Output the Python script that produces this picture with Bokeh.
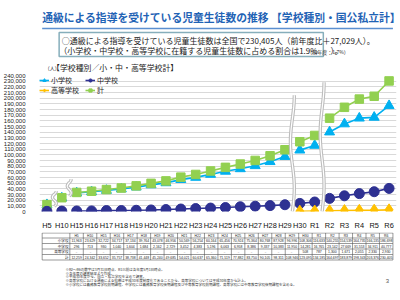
import numpy as np
from bokeh.plotting import figure
from bokeh.layouts import column
from bokeh.models import (Range1d, FactorRange, SingleIntervalTicker,
                          NumeralTickFormatter, Legend, LegendItem)
from bokeh.core.properties import value
from bokeh.embed import file_html
from bokeh.resources import INLINE

# ---- data -----------------------------------------------------------------
YEARS = ["H5", "H10", "H15", "H16", "H17", "H18", "H19", "H20", "H21", "H22",
         "H23", "H24", "H25", "H26", "H27", "H28", "H29", "H30", "R1",
         "R2", "R3", "R4", "R5", "R6"]
ELEMENTARY = [11963, 23629, 32722, 34717, 37134, 39764, 43078, 46956, 50569,
              56254, 60164, 65456, 70924, 75364, 80768, 87928, 96996, 108306,
              116633, 140255, 154539, 164735, 166135, 186698]
JUNIOR_HIGH = [296, 713, 930, 1040, 1604, 1684, 2162, 2729, 3452, 4383, 5196,
               6063, 6958, 8386, 9337, 10383, 11950, 14281, 16765, 23142,
               27669, 31553, 34911, 40777]
HIGH_SCHOOL = [None] * 17 + [508, 787, 1300, 1671, 2055, 2330, 2930]
TOTAL = [12259, 24342, 33652, 35757, 38738, 41448, 45240, 49685, 54021, 60637,
         65360, 71519, 77882, 83750, 90105, 98311, 108946, 123095, 134185,
         164697, 183879, 198343, 203376, 230405]

# a new line segment starts at each of these years (series break)
BREAK_YEARS = ["H10", "H15", "H30", "R2"]
# vertical extent of the wavy break marks (in persons)
BREAK_MARKS = {"H10": (9000, 36000), "H15": (27000, 57000),
               "H30": (0, 205000), "R2": (0, 228000)}

ROW_NAMES = ["小学校", "中学校", "高等学校", "計"]

TITLE = "通級による指導を受けている児童生徒数の推移 【学校種別・国公私立計】"
NOTE_1 = "○通級による指導を受けている児童生徒数は全国で230,405人（前年度比＋27,029人）。"
NOTE_2A = "（小学校・中学校・高等学校に在籍する児童生徒数に占める割合は1.9%"
NOTE_2B = "（前年度：1.7%）"
NOTE_2C = "）。"
UNIT = "（人）"
SUBTITLE = "【学校種別／小・中・高等学校計】"
FOOTNOTES = [
    "※R2～R6の数字は3月31日時点、R1以前は各年度5月1日時点。",
    "※各年度の調査結果より作成。",
    "※平成30年度から、国立・私立学校を含めて調査。",
    "※高等学校における通級による指導は平成30年度制度化であることから、高等学校については平成30年度から計上。",
    "※小学校には義務教育学校前期課程、中学校には義務教育学校後期課程及び中等教育学校前期課程、高等学校には中等教育学校後期課程を含める。",
]

JP = "Noto Sans CJK JP"
LAT = "Liberation Sans"

C_ELEM = "#00B0F0"
C_JHS = "#2E3192"
C_HIGH = "#FFC000"
C_TOTAL = "#92D050"


def bare(fig):
    fig.grid.visible = False
    fig.outline_line_color = None
    fig.background_fill_color = "white"
    fig.border_fill_color = "white"


# ---- header: title and summary box ----------------------------------------
head = figure(width=400, height=72, x_range=Range1d(0, 400),
              y_range=Range1d(72, 0), x_axis_type=None, y_axis_type=None,
              min_border=0, output_backend="svg", toolbar_location=None)
bare(head)
head.text(x=[3], y=[16], text=[TITLE], text_font=value(JP),
          text_font_size="10.8px", text_font_style="bold",
          text_color="#1F63B5", text_baseline="middle")
head.line(x=[3, 396], y=[28, 28], line_color="#5B8FD0", line_width=1.5)
head.quad(left=[22], right=[318], top=[32], bottom=[56], fill_color="white",
          line_color="#86AEBB", line_width=1.5)
head.text(x=[25], y=[39.5], text=[NOTE_1], text_font=value(JP),
          text_font_size="8px", text_color="#222222", text_baseline="middle")
head.text(x=[22], y=[50], text=[NOTE_2A], text_font=value(JP),
          text_font_size="8px", text_color="#222222", text_baseline="middle")
head.text(x=[300], y=[50.5], text=[NOTE_2B], text_font=value(JP),
          text_font_size="5px", text_color="#222222", text_baseline="middle")
head.text(x=[326], y=[50], text=[NOTE_2C], text_font=value(JP),
          text_font_size="8px", text_color="#222222", text_baseline="middle")
head.text(x=[6], y=[67], text=[UNIT], text_font=value(JP),
          text_font_size="5px", text_color="#222222", text_baseline="middle")
head.text(x=[14], y=[67], text=[SUBTITLE], text_font=value(JP),
          text_font_size="7.9px", text_color="#222222", text_baseline="middle")

# ---- chart ------------------------------------------------------------------
p = figure(width=400, height=160, x_range=FactorRange(*YEARS),
           y_range=Range1d(0, 240000), min_border_left=34, min_border_right=4,
           min_border_top=3, min_border_bottom=14, output_backend="svg",
           toolbar_location=None)
p.outline_line_color = None
p.xgrid.grid_line_color = None
p.ygrid.grid_line_color = "#D9D9D9"
p.ygrid.grid_line_width = 1

p.yaxis.ticker = SingleIntervalTicker(interval=10000)
p.yaxis.formatter = NumeralTickFormatter(format="0,0")
p.yaxis.major_label_text_font = LAT
p.yaxis.major_label_text_font_size = "6px"
p.yaxis.major_label_text_color = "#222222"
p.yaxis.major_label_standoff = 8
p.xaxis.major_label_text_font = LAT
p.xaxis.major_label_text_font_size = "7.4px"
p.xaxis.major_label_text_color = "#111111"
p.xaxis.major_label_standoff = 3
for ax in (p.xaxis, p.yaxis):
    ax.axis_line_color = None
    ax.major_tick_line_color = None
    ax.minor_tick_line_color = None


def runs(values):
    """Split a series into continuous runs at the break years."""
    xs_all, ys_all = [[]], [[]]
    for year, v in zip(YEARS, values):
        if year in BREAK_YEARS and xs_all[-1]:
            xs_all.append([])
            ys_all.append([])
        if v is not None:
            xs_all[-1].append(year)
            ys_all[-1].append(v)
    pairs = [(a, b) for a, b in zip(xs_all, ys_all) if len(a) > 1]
    return [a for a, _ in pairs], [b for _, b in pairs]


def series(values, color, marker, size):
    xs, ys = runs(values)
    ln = p.multi_line(xs=xs, ys=ys, line_color=color, line_width=1.6)
    px = [y for y, v in zip(YEARS, values) if v is not None]
    py = [v for v in values if v is not None]
    sc = p.scatter(x=px, y=py, marker=marker, size=size, fill_color=color,
                   line_color=color)
    return [ln, sc]


r_elem = series(ELEMENTARY, C_ELEM, "triangle", 10)
r_total = series(TOTAL, C_TOTAL, "square", 8.5)
r_jhs = series(JUNIOR_HIGH, C_JHS, "circle", 10)
r_high = series(HIGH_SCHOOL, C_HIGH, "diamond", 12)

# wavy break marks between discontinuous survey periods
wx, wy = [], []
for year, (y0, y1) in BREAK_MARKS.items():
    xb = YEARS.index(year)
    t = np.linspace(0.0, 1.0, 60)
    wx.append(list(xb + 0.13 * np.sin(2 * np.pi * 1.25 * t)))
    wy.append(list(y0 + (y1 - y0) * t))
p.multi_line(xs=wx, ys=wy, line_color="#BDBDBD", line_width=3.4)
p.multi_line(xs=wx, ys=wy, line_color="white", line_width=1.2)


# legend: two rows of two entries, stacked at the top left of the plot
def legend_row(items, bottom):
    lg = Legend(items=[LegendItem(label=lab, renderers=rs) for lab, rs in items],
                location=(0, bottom), orientation="horizontal")
    lg.label_text_font = JP
    lg.label_text_font_size = "7px"
    lg.label_text_color = "#222222"
    lg.glyph_width = 10
    lg.glyph_height = 8
    lg.label_height = 8
    lg.label_width = 32
    lg.label_standoff = 2
    lg.spacing = 2
    lg.padding = 1
    lg.margin = 0
    lg.border_line_color = None
    lg.background_fill_alpha = 0
    p.add_layout(lg)


legend_row([(ROW_NAMES[0], r_elem), (ROW_NAMES[1], r_jhs)], 126)
legend_row([(ROW_NAMES[2], r_high), (ROW_NAMES[3], r_total)], 116)

# ---- data table and footnotes --------------------------------------------
tab = figure(width=400, height=68, x_range=Range1d(0, 400),
             y_range=Range1d(300, 232), x_axis_type=None, y_axis_type=None,
             min_border=0, output_backend="svg", toolbar_location=None)
bare(tab)

T_LEFT, T_COL0, T_RIGHT = 3, 34, 396
ROW_EDGES = [232.5, 237.5, 243, 248.5, 254, 259.5]
col_w = (T_RIGHT - T_COL0) / len(YEARS)
col_edges = [T_COL0 + i * col_w for i in range(len(YEARS) + 1)]
col_mid = [T_COL0 + (i + 0.5) * col_w for i in range(len(YEARS))]

tab.segment(x0=[T_LEFT] * len(ROW_EDGES), x1=[T_RIGHT] * len(ROW_EDGES),
            y0=ROW_EDGES, y1=ROW_EDGES, line_color="#555555", line_width=0.6)
vx = [T_LEFT] + col_edges
tab.segment(x0=vx, x1=vx, y0=[ROW_EDGES[0]] * len(vx),
            y1=[ROW_EDGES[-1]] * len(vx), line_color="#555555",
            line_width=0.6)


def fmt(v):
    return "－" if v is None else f"{v:,}"


mid_rows = [(a + b) / 2 for a, b in zip(ROW_EDGES[:-1], ROW_EDGES[1:])]
cell_x, cell_y, cell_t = [], [], []
for i, year in enumerate(YEARS):
    cell_x.append(col_mid[i]); cell_y.append(mid_rows[0]); cell_t.append(year)
for r, vals in enumerate([ELEMENTARY, JUNIOR_HIGH, HIGH_SCHOOL, TOTAL]):
    for i, v in enumerate(vals):
        cell_x.append(col_mid[i]); cell_y.append(mid_rows[r + 1])
        cell_t.append(fmt(v))
tab.text(x=cell_x, y=cell_y, text=cell_t, text_font=value(LAT),
         text_font_size="3.4px", text_color="#222222", text_align="center",
         text_baseline="middle")
tab.text(x=[T_COL0 - 1.5] * 4, y=mid_rows[1:], text=ROW_NAMES,
         text_font=value(JP), text_font_size="3.6px", text_color="#222222",
         text_align="right", text_baseline="middle")

tab.text(x=[29] * len(FOOTNOTES), y=[268.5, 272.5, 276.3, 280.2, 284.3],
         text=FOOTNOTES, text_font=value(JP), text_font_size="3.5px",
         text_color="#333333", text_baseline="middle")
tab.text(x=[388], y=[280], text=["3"], text_font=value(LAT),
         text_font_size="6px", text_color="#555555", text_baseline="middle")

page = column(head, p, tab, spacing=0)
open("out.html", "w").write(file_html(page, INLINE))
